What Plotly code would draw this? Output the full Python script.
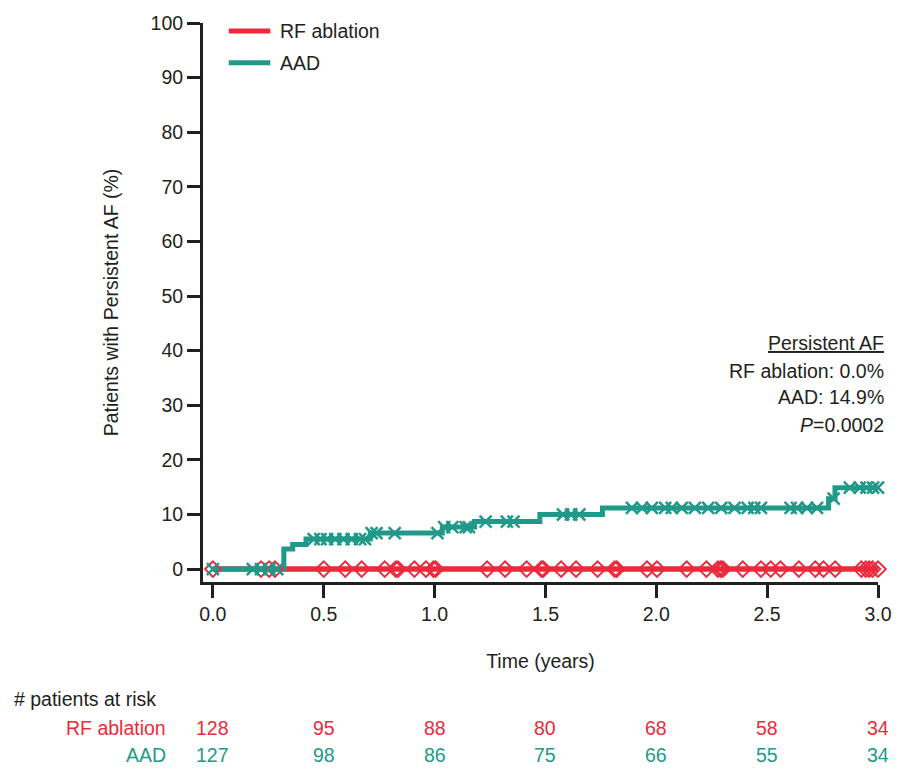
import plotly.graph_objects as go

# ---- data ----
aad_step_t = [0.0, 0.32, 0.36, 0.42, 0.71, 1.035, 1.18, 1.475, 1.757, 2.777, 2.806, 3.0]
aad_step_y = [0.0, 3.7, 4.5, 5.5, 6.6, 7.7, 8.7, 10.0, 11.2, 12.9, 14.9, 14.9]

aad_cens_t = [0.0, 0.18, 0.217, 0.254, 0.29, 0.455, 0.485, 0.515, 0.552, 0.589, 0.626,
              0.664, 0.686, 0.716, 0.738, 0.82, 1.013, 1.043, 1.08, 1.14, 1.155, 1.23,
              1.326, 1.356, 1.579, 1.616, 1.653, 1.89, 1.936, 1.98, 2.04, 2.07, 2.115,
              2.174, 2.234, 2.293, 2.353, 2.412, 2.442, 2.472, 2.606, 2.635, 2.68,
              2.725, 2.8, 2.873, 2.918, 2.948, 2.978, 3.0]

rf_step_t = [0.0, 3.0]
rf_step_y = [0.0, 0.0]
rf_cens_t = [0.0, 0.217, 0.254, 0.28, 0.5, 0.597, 0.671, 0.775, 0.825, 0.835, 0.909,
             0.961, 0.995, 1.005, 1.237, 1.318, 1.415, 1.482, 1.49, 1.571, 1.638,
             1.735, 1.812, 1.822, 1.958, 2.003, 2.137, 2.226, 2.278, 2.29, 2.30, 2.39,
             2.472, 2.516, 2.56, 2.643, 2.717, 2.754, 2.807, 2.925, 2.945, 2.96,
             2.975, 3.0]

risk_times = [0.0, 0.5, 1.0, 1.5, 2.0, 2.5, 3.0]
risk_rf = [128, 95, 88, 80, 68, 58, 34]
risk_aad = [127, 98, 86, 75, 66, 55, 34]

x_ticks = [0.0, 0.5, 1.0, 1.5, 2.0, 2.5, 3.0]
y_ticks = [0, 10, 20, 30, 40, 50, 60, 70, 80, 90, 100]

RED = "#EC2A3B"
GREEN = "#21998A"
INK = "#231F20"
FONT = "Liberation Sans Narrow, Arial Narrow, Liberation Sans, Arial, sans-serif"
FS = 19.5

# plot-area geometry in pixels
L, R, T, B = 203, 885, 19, 582
W, H = 904, 771


def px(xp):
    return (xp - L) / (R - L)


def py(yp):
    return (B - yp) / (B - T)


fig = go.Figure()

fig.add_trace(go.Scatter(x=rf_step_t, y=rf_step_y, mode="lines", line=dict(color=RED, width=5.5, shape="hv"),
                         name="RF ablation", showlegend=False, cliponaxis=False))
fig.add_trace(go.Scatter(x=aad_step_t, y=aad_step_y, mode="lines", line=dict(color=GREEN, width=5, shape="hv"),
                         name="AAD", showlegend=False, cliponaxis=False))
fig.add_trace(go.Scatter(x=rf_cens_t, y=[0.0] * len(rf_cens_t), mode="markers",
                         marker=dict(symbol="diamond-open", size=12, color=RED, line=dict(color=RED, width=2)),
                         showlegend=False, hoverinfo="skip", cliponaxis=False))


def step_val(t):
    v = aad_step_y[0]
    for tt, yy in zip(aad_step_t, aad_step_y):
        if tt <= t:
            v = yy
    return v


fig.add_trace(go.Scatter(x=aad_cens_t, y=[step_val(t) for t in aad_cens_t], mode="markers",
                         marker=dict(symbol="x-thin-open", size=12, color=GREEN, line=dict(color=GREEN, width=2.5)),
                         showlegend=False, hoverinfo="skip", cliponaxis=False))

fig.update_layout(
    width=W, height=H,
    margin=dict(l=L, r=W - R, t=T, b=H - B),
    paper_bgcolor="white", plot_bgcolor="white",
    font=dict(family=FONT, size=FS, color=INK),
    showlegend=False,
    xaxis=dict(range=[-0.0446, 3.0], tickvals=x_ticks, ticktext=[f"{v:.1f}" for v in x_ticks],
               showgrid=False, zeroline=False, showline=True, linecolor=INK, linewidth=3,
               ticks="outside", ticklen=13, tickwidth=3, tickcolor=INK,
               title=dict(text="Time (years)", standoff=30, font=dict(size=FS))),
    yaxis=dict(range=[-2.36, 100], tickvals=y_ticks, showgrid=False, zeroline=False, showline=True,
               linecolor=INK, linewidth=3, ticks="outside", ticklen=13, tickwidth=3,
               tickcolor=INK,
               title=dict(text="Patients with Persistent AF (%)", standoff=27, font=dict(size=FS))),
)

# legend drawn manually
for color, label, ypx in [(RED, "RF ablation", 27), (GREEN, "AAD", 59)]:
    fig.add_shape(type="line", xref="paper", yref="paper", x0=px(229), x1=px(271), y0=py(ypx), y1=py(ypx),
                  line=dict(color=color, width=5))
    fig.add_annotation(x=px(279), xref="paper", xanchor="left", y=py(ypx), yref="paper", yanchor="middle",
                       text=label, showarrow=False, font=dict(size=FS, color=INK))

ann = [
    ("<u>Persistent AF</u>", 341),
    ("RF ablation: 0.0%", 369),
    ("AAD: 14.9%", 396),
    ("<i>P</i>=0.0002", 424),
]
for text, ypx in ann:
    fig.add_annotation(x=px(893), xref="paper", xanchor="right", y=py(ypx), yref="paper",
                       yanchor="middle", text=text, showarrow=False, font=dict(size=FS, color=INK))

fig.add_annotation(x=px(10), xref="paper", xanchor="left", y=py(700), yref="paper",
                   yanchor="middle", text="# patients at risk", showarrow=False,
                   font=dict(size=FS, color=INK))
fig.add_annotation(x=px(168), xref="paper", xanchor="right", y=py(729), yref="paper",
                   yanchor="middle", text="RF ablation", showarrow=False, font=dict(size=FS, color=RED))
fig.add_annotation(x=px(168), xref="paper", xanchor="right", y=py(756), yref="paper",
                   yanchor="middle", text="AAD", showarrow=False, font=dict(size=FS, color=GREEN))
for t, a, b in zip(risk_times, risk_rf, risk_aad):
    fig.add_annotation(x=t, xref="x", xanchor="center", y=py(729), yref="paper", yanchor="middle",
                       text=str(a), showarrow=False, font=dict(size=FS, color=RED))
    fig.add_annotation(x=t, xref="x", xanchor="center", y=py(756), yref="paper", yanchor="middle",
                       text=str(b), showarrow=False, font=dict(size=FS, color=GREEN))

fig.write_html("out.html")
